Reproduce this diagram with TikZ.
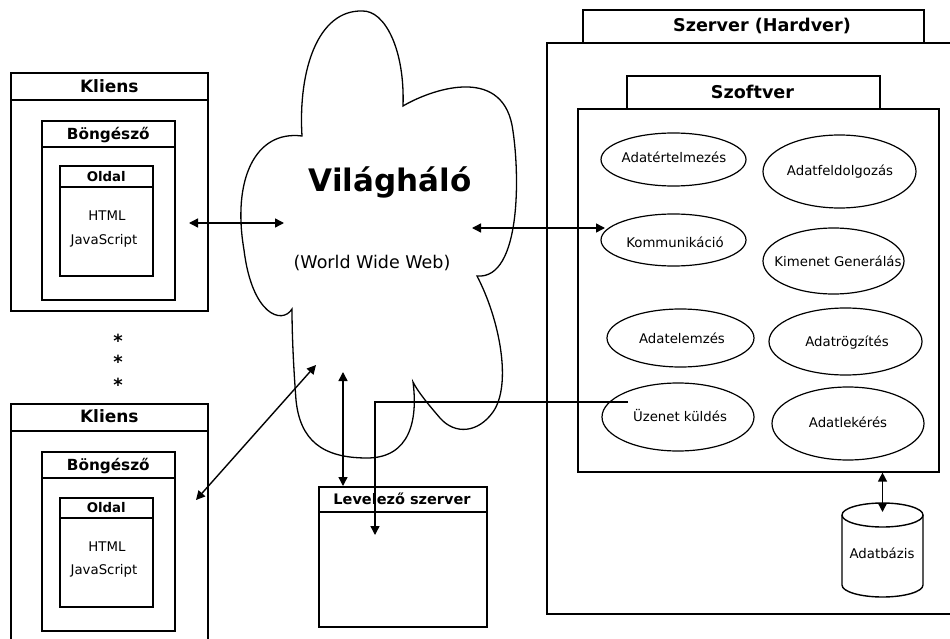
\documentclass[tikz,border=0pt]{standalone}
\usepackage{fontspec}
\setmainfont{DejaVu Sans}
\usetikzlibrary{arrows.meta,shapes.geometric}

\tikzset{
  frame/.style={draw, line width=1.6pt, rectangle, inner sep=0pt, anchor=north west},
  frameline/.style={line width=1.6pt},
  ellnode/.style={draw, ellipse, line width=1.2pt, inner sep=0pt},
  cloudline/.style={line width=1.3pt},
  dbline/.style={line width=1.4pt},
  arr/.style={line width=1.4pt, {Triangle[length=9pt,width=9pt]}-{Triangle[length=9pt,width=9pt]}},
  onearr/.style={line width=1.4pt, -{Triangle[length=9pt,width=9pt]}},
  lbl/.style={inner sep=0pt, text height=9.7pt, text depth=0pt, font=\fontsize{13.3}{16}\selectfont},
  ttlA/.style={inner sep=0pt, text height=12.4pt, text depth=0pt, font=\bfseries\fontsize{17}{20}\selectfont},
  ttlS/.style={inner sep=0pt, text height=12.8pt, text depth=0pt, font=\bfseries\fontsize{17.6}{20}\selectfont},
  ttlB/.style={inner sep=0pt, text height=11.2pt, text depth=0pt, font=\bfseries\fontsize{15.3}{18}\selectfont},
  ttlC/.style={inner sep=0pt, text height=9.7pt, text depth=0pt, font=\bfseries\fontsize{13.3}{16}\selectfont},
  ttlD/.style={inner sep=0pt, text height=10.6pt, text depth=0pt, font=\bfseries\fontsize{14.5}{17}\selectfont},
  bigttl/.style={inner sep=0pt, text height=22.6pt, text depth=0pt, font=\bfseries\fontsize{31}{36}\selectfont},
  subttl/.style={inner sep=0pt, text height=12.8pt, text depth=0pt, font=\fontsize{17.5}{20}\selectfont},
  dots/.style={inner sep=0pt, font=\bfseries\fontsize{18}{20}\selectfont},
}

\begin{document}
\begin{tikzpicture}[x=1pt,y=-1pt]
\useasboundingbox (0,0) rectangle (950,639);
\clip (0,0) rectangle (950,639);

% ---------- first client ----------
\node[frame, minimum width=197pt, minimum height=238pt] (k1) at (10,72) {};
\draw[frameline] ([yshift=-28pt]k1.north west) -- ([yshift=-28pt]k1.north east);
\node[ttlA] (k1t) at ([yshift=-14pt]k1.north) {Kliens};
\node[frame, minimum width=133pt, minimum height=179pt] (b1) at (41,120) {};
\draw[frameline] ([yshift=-27pt]b1.north west) -- ([yshift=-27pt]b1.north east);
\node[ttlB] (b1t) at ([yshift=-14pt]b1.north) {Böngésző};
\node[frame, minimum width=93pt, minimum height=110pt] (o1) at (59,165) {};
\draw[frameline] ([yshift=-22pt]o1.north west) -- ([yshift=-22pt]o1.north east);
\node[ttlC] (o1t) at ([yshift=-12pt]o1.north) {Oldal};
\node[lbl] (h1) at (107,216) {HTML};
\node[lbl] (j1) at (104,240) {JavaScript};

% ---------- ellipsis between clients ----------
\node[dots] (s1) at (118,341) {*};
\node[dots] (s2) at (118,362) {*};
\node[dots] (s3) at (118,385) {*};

% ---------- second client ----------
\node[frame, minimum width=197pt, minimum height=260pt] (k2) at (10,403) {};
\draw[frameline] ([yshift=-28pt]k2.north west) -- ([yshift=-28pt]k2.north east);
\node[ttlA] (k2t) at ([yshift=-13pt]k2.north) {Kliens};
\node[frame, minimum width=133pt, minimum height=179pt] (b2) at (41,451) {};
\draw[frameline] ([yshift=-27pt]b2.north west) -- ([yshift=-27pt]b2.north east);
\node[ttlB] (b2t) at ([yshift=-14pt]b2.north) {Böngésző};
\node[frame, minimum width=93pt, minimum height=109pt] (o2) at (59,497) {};
\draw[frameline] ([yshift=-21pt]o2.north west) -- ([yshift=-21pt]o2.north east);
\node[ttlC] (o2t) at ([yshift=-11pt]o2.north) {Oldal};
\node[lbl] (h2) at (107,547) {HTML};
\node[lbl] (j2) at (104,570) {JavaScript};

% ---------- the web cloud ----------
\draw[cloudline]
  (302,136) .. controls (298,70) and (318,10) .. (362,11)
  .. controls (385,10) and (405,50) .. (403,106)
  .. controls (430,90) and (500,65) .. (512,125)
  .. controls (520,170) and (522,280) .. (477,276)
  .. controls (500,320) and (512,385) .. (493,412)
  .. controls (478,433) and (455,435) .. (440,418)
  .. controls (428,404) and (418,392) .. (413,382)
  .. controls (418,420) and (410,458) .. (367,458)
  .. controls (322,458) and (300,440) .. (296,400)
  .. controls (293,360) and (292,330) .. (292,309)
  .. controls (282,325) and (252,315) .. (244,250)
  .. controls (232,180) and (255,130) .. (302,136) -- cycle;
\node[bigttl] (www) at (390,180) {Világháló};
\node[subttl] (wwwsub) at (372,262) {(World Wide Web)};

% ---------- mail server ----------
\node[frame, minimum width=168pt, minimum height=140pt] (mail) at (318,486) {};
\draw[frameline] ([yshift=-26pt]mail.north west) -- ([yshift=-26pt]mail.north east);
\node[ttlD] (mailt) at (402,499) {Levelező szerver};

% ---------- server hardware and software ----------
\node[frame, minimum width=341pt, minimum height=33pt] (hwtab) at (582,9) {};
\node[ttlS] (hwt) at (762,25) {Szerver (Hardver)};
\node[frame, minimum width=420pt, minimum height=571pt] (hw) at (546,42) {};
\node[frame, minimum width=253pt, minimum height=33pt] (swtab) at (626,75) {};
\node[ttlS] (swt) at (752.5,92) {Szoftver};
\node[frame, minimum width=361pt, minimum height=363pt] (sw) at (577,108) {};

% software components
\node[ellnode, minimum width=145pt, minimum height=53pt] (e1) at (673.5,159.5) {};
\node[lbl] (e1t) at (674,158) {Adatértelmezés};
\node[ellnode, minimum width=153pt, minimum height=73pt] (e2) at (839.5,171.5) {};
\node[lbl] (e2t) at (840,171) {Adatfeldolgozás};
\node[ellnode, minimum width=145pt, minimum height=52pt] (e3) at (673.5,240) {};
\node[lbl] (e3t) at (675,243) {Kommunikáció};
\node[ellnode, minimum width=141pt, minimum height=66pt] (e4) at (833.5,261) {};
\node[lbl] (e4t) at (838,262) {Kimenet Generálás};
\node[ellnode, minimum width=147pt, minimum height=58pt] (e5) at (680.5,338) {};
\node[lbl] (e5t) at (682,339) {Adatelemzés};
\node[ellnode, minimum width=153pt, minimum height=67pt] (e6) at (845.5,341.5) {};
\node[lbl] (e6t) at (847,342) {Adatrögzítés};
\node[ellnode, minimum width=152pt, minimum height=68pt] (e7) at (678,417) {};
\node[lbl] (e7t) at (680,417) {Üzenet küldés};
\node[ellnode, minimum width=152pt, minimum height=73pt] (e8) at (848,423.5) {};
\node[lbl] (e8t) at (848,423) {Adatlekérés};

% database
\coordinate (dbtop) at (882.5,515);
\draw[dbline] (842,515) -- (842,585) arc[start angle=180, end angle=0, x radius=40.5, y radius=12] -- (923,515);
\draw[dbline] (dbtop) ellipse [x radius=40.5, y radius=12];
\node[lbl] (dbt) at (882,554) {Adatbázis};

% ---------- connections ----------
\coordinate (k1p) at (189,223);
\coordinate (w1) at (284,223);
\draw[arr] (k1p) -- (w1);
\coordinate (k2p) at (196,500);
\coordinate (w2) at (316,365);
\draw[arr] (k2p) -- (w2);
\coordinate (w3) at (343,372);
\draw[arr] (w3) -- (w3 |- mail.north);
\coordinate (w4) at (472,228);
\coordinate (kp) at (605,228);
\draw[arr] (w4) -- (kp);
\coordinate (uzp) at (628,402);
\coordinate (mp) at (375,535);
\draw[onearr] (uzp) -| (mp);
\coordinate (dbin) at (882.5,512);
\draw[arr] (sw.south -| dbin) -- (dbin);
\end{tikzpicture}
\end{document}
